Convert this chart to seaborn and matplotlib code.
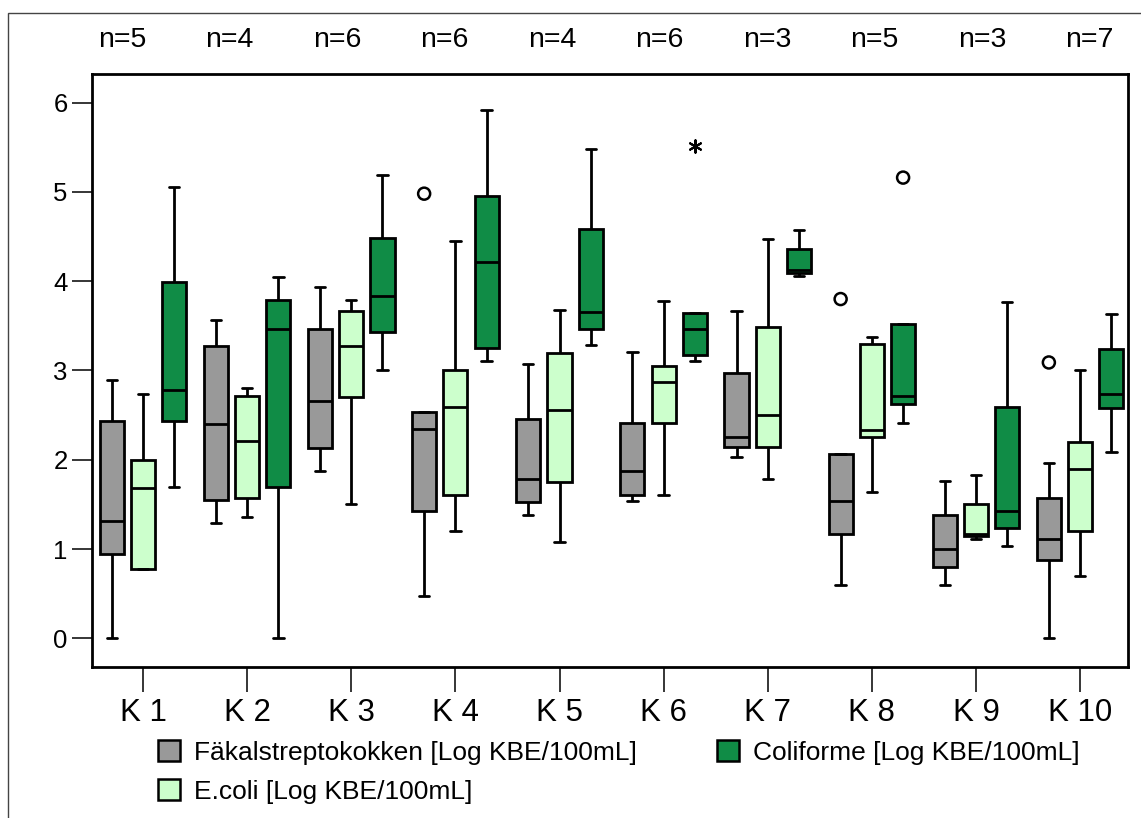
import numpy as np
import pandas as pd
import matplotlib
matplotlib.use("Agg")
import matplotlib.pyplot as plt
from matplotlib.patches import Patch, Rectangle
from matplotlib.transforms import blended_transform_factory
import seaborn as sns

# ---------------- data ----------------
stations = ["K 1", "K 2", "K 3", "K 4", "K 5", "K 6", "K 7", "K 8", "K 9", "K 10"]
n_counts = [5, 4, 6, 6, 4, 6, 3, 5, 3, 7]
series = ["Fäkalstreptokokken [Log KBE/100mL]",
          "E.coli [Log KBE/100mL]",
          "Coliforme [Log KBE/100mL]"]
colors = ["#999999", "#CCFFCC", "#108C46"]

# five-number summaries per station: (lower whisker, Q1, median, Q3, upper whisker)
faekal = [
    (0.00, 0.95, 1.32, 2.43, 2.89),
    (1.29, 1.55, 2.40, 3.27, 3.56),
    (1.88, 2.13, 2.66, 3.46, 3.93),
    (0.48, 1.43, 2.34, 2.53, 2.53),
    (1.38, 1.53, 1.78, 2.46, 3.07),
    (1.54, 1.61, 1.88, 2.41, 3.21),
    (2.03, 2.14, 2.26, 2.97, 3.67),
    (0.60, 1.17, 1.54, 2.07, 2.07),
    (0.60, 0.80, 1.00, 1.38, 1.76),
    (0.00, 0.88, 1.11, 1.57, 1.96),
]
ecoli = [
    (0.78, 0.78, 1.68, 2.00, 2.74),
    (1.36, 1.57, 2.21, 2.71, 2.80),
    (1.50, 2.70, 3.27, 3.67, 3.79),
    (1.20, 1.61, 2.59, 3.00, 4.45),
    (1.08, 1.75, 2.56, 3.20, 3.68),
    (1.61, 2.41, 2.87, 3.05, 3.78),
    (1.79, 2.14, 2.50, 3.49, 4.47),
    (1.64, 2.25, 2.33, 3.30, 3.38),
    (1.11, 1.15, 1.17, 1.50, 1.83),
    (0.70, 1.20, 1.90, 2.20, 3.00),
]
coliforme = [
    (1.70, 2.44, 2.78, 3.99, 5.05),
    (0.00, 1.70, 3.47, 3.79, 4.05),
    (3.00, 3.43, 3.83, 4.48, 5.19),
    (3.11, 3.25, 4.21, 4.95, 5.92),
    (3.29, 3.46, 3.66, 4.59, 5.48),
    (3.11, 3.17, 3.46, 3.64, 3.64),
    (4.06, 4.09, 4.13, 4.36, 4.57),
    (2.41, 2.62, 2.71, 3.52, 3.52),
    (1.04, 1.24, 1.43, 2.59, 3.77),
    (2.09, 2.58, 2.74, 3.24, 3.63),
]

# outliers (circles) and extreme values (stars)
outlier_station = ["K 4", "K 8", "K 8", "K 10"]
outlier_series = [0, 0, 2, 0]
outlier_value = [4.98, 3.80, 5.16, 3.09]
extreme_station = ["K 6"]
extreme_series = [2]
extreme_value = [5.51]

# ---------------- long-form table ----------------
rows = []
for s_name, summaries in zip(series, [faekal, ecoli, coliforme]):
    for st, vals in zip(stations, summaries):
        for v in vals:
            rows.append({"station": st, "series": s_name, "value": v})
df = pd.DataFrame(rows)

# ---------------- plot ----------------
sns.set_style("ticks")
plt.rcParams["font.family"] = ["Liberation Sans", "DejaVu Sans"]
plt.rcParams["text.color"] = "black"
plt.rcParams["xtick.color"] = "black"
plt.rcParams["ytick.color"] = "black"
plt.rcParams["xtick.labelcolor"] = "black"
plt.rcParams["ytick.labelcolor"] = "black"

fig = plt.figure(figsize=(11.41, 8.18), dpi=100)
ax = fig.add_axes([92 / 1141, 1 - 667 / 818, (1128 - 92) / 1141, (667 - 74) / 818])

box_width = 0.9
sns.boxplot(data=df, x="station", y="value", hue="series",
            order=stations, hue_order=series, palette=colors,
            width=box_width, gap=0.23, whis=(0, 100), saturation=1,
            linecolor="black", linewidth=2.0, legend=False, ax=ax,
            capwidths=0.1,
            medianprops={"color": "black", "linewidth": 2.0})

slot = box_width / len(series)
offsets = [(i - (len(series) - 1) / 2) * slot for i in range(len(series))]

ox = [stations.index(s) + offsets[k] for s, k in zip(outlier_station, outlier_series)]
ax.scatter(ox, outlier_value, marker="o", s=75, facecolors="none",
           edgecolors="black", linewidths=1.8, zorder=5)
ex = [stations.index(s) + offsets[k] for s, k in zip(extreme_station, extreme_series)]
ax.scatter(ex, extreme_value, marker=(6, 2, 0), s=80, color="black",
           linewidths=1.5, zorder=5)

ax.set_xlim(-0.49, 9.46)
ax.set_ylim(-0.32, 6.32)
ax.set_yticks(range(0, 7))
ax.set_xlabel("")
ax.set_ylabel("")

for sp in ax.spines.values():
    sp.set_visible(True)
    sp.set_linewidth(2.0)
    sp.set_color("black")

ax.tick_params(axis="y", length=14.5, width=1.1, labelsize=18.5, pad=3, color="black")
ax.tick_params(axis="x", length=18, width=1.1, labelsize=22.5, pad=4, color="black")

# n= labels above the plot
trans = blended_transform_factory(ax.transData, fig.transFigure)
n_pos = np.linspace(-0.2, 9.09, len(stations))
for xp, n in zip(n_pos, n_counts):
    ax.text(xp, 1 - 40 / 818, f"n={n}", transform=trans, ha="center",
            va="center", fontsize=20.5, color="black")

# legend
handles = [Patch(facecolor=c, edgecolor="black", linewidth=1.8) for c in colors]
fig.legend(handles, series, loc="upper left",
           bbox_to_anchor=(158 / 1141, 1 - 740 / 818), ncol=2, frameon=False,
           fontsize=19, handlelength=0.85, handleheight=0.85,
           handletextpad=0.5, columnspacing=3.05, labelspacing=0.55,
           borderaxespad=0, borderpad=0)

# outer frame
fig.patches.append(Rectangle((8 / 1141, -0.2), 1.5, 1 - 13 / 818 + 0.2,
                             transform=fig.transFigure, fill=False,
                             edgecolor="#444444", linewidth=1.0))

fig.savefig("out.png", dpi=100)
